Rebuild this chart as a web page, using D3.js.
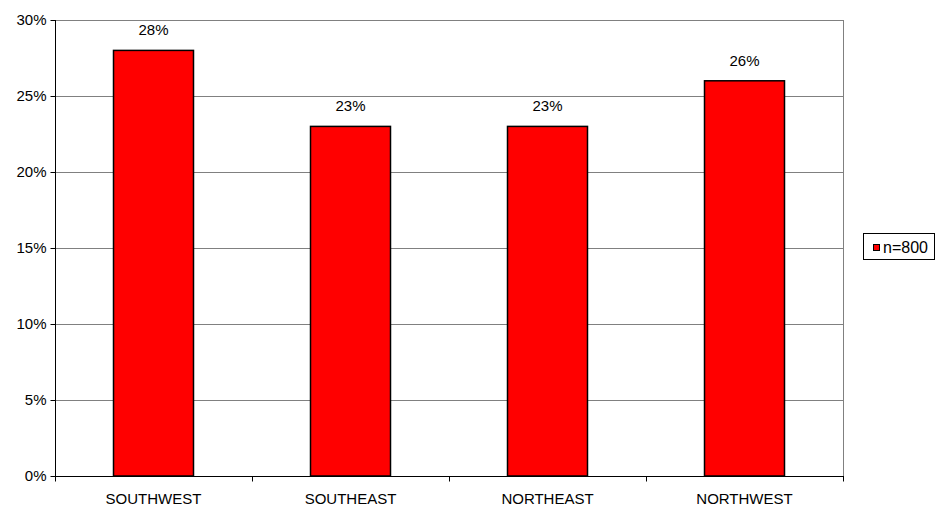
<!DOCTYPE html>
<html>
<head>
<meta charset="utf-8">
<script src="https://cdn.jsdelivr.net/npm/d3@7"></script>
<style>
html,body{margin:0;padding:0;background:#fff;}
svg{display:block;font-family:"Liberation Sans",Arial,sans-serif;}
</style>
</head>
<body>
<svg id="chart" width="935" height="508"></svg>
<script>
const categories = ["SOUTHWEST", "SOUTHEAST", "NORTHEAST", "NORTHWEST"];
const values = [28, 23, 23, 26];
const yTicks = [0, 5, 10, 15, 20, 25, 30];
const seriesName = "n=800";

const svg = d3.select("#chart");
const L = 55, R = 843, T = 20, B = 476;
const FS = 15;

const x = d3.scaleBand().domain(categories).range([L, R]).paddingInner(0).paddingOuter(0);
const y = d3.scaleLinear().domain([0, 30]).range([B, T]);
const barFrac = 80 / 197;

// gridlines
svg.append("g").selectAll("line").data(yTicks.filter(d => d > 0)).join("line")
  .attr("x1", L).attr("x2", R)
  .attr("y1", d => y(d) + 0.5).attr("y2", d => y(d) + 0.5)
  .attr("stroke", "#808080").attr("stroke-width", 1);

// right border
svg.append("line").attr("x1", R + 0.5).attr("x2", R + 0.5).attr("y1", T).attr("y2", B)
  .attr("stroke", "#808080").attr("stroke-width", 1);

// bars
const bw = x.bandwidth() * barFrac;
svg.append("g").selectAll("rect").data(categories).join("rect")
  .attr("x", d => x(d) + (x.bandwidth() - bw) / 2)
  .attr("y", (d, i) => y(values[i]))
  .attr("width", bw)
  .attr("height", (d, i) => B - y(values[i]))
  .attr("fill", "#ff0000").attr("stroke", "#000").attr("stroke-width", 1.5);

// value labels
svg.append("g").selectAll("text").data(categories).join("text")
  .attr("x", d => x(d) + x.bandwidth() / 2)
  .attr("y", (d, i) => y(values[i]) - 15)
  .attr("text-anchor", "middle").attr("font-size", FS).attr("fill", "#000")
  .text((d, i) => values[i] + "%");

// y axis
const yAxis = d3.axisLeft(y).tickValues(yTicks).tickFormat(d => d + "%").tickSize(5).tickPadding(4);
const gy = svg.append("g").attr("transform", `translate(${L + 0.5},0)`).call(yAxis);
gy.select(".domain").attr("stroke", "#000").attr("d", `M0,${T}V${B}`);
gy.selectAll(".tick line").attr("stroke", "#000");
gy.selectAll(".tick text").attr("font-size", FS).attr("fill", "#000").attr("font-family", "Liberation Sans, Arial, sans-serif");

// x axis
const gx = svg.append("g").attr("transform", `translate(0,${B + 0.5})`);
gx.append("line").attr("x1", L).attr("x2", R + 1).attr("y1", 0).attr("y2", 0).attr("stroke", "#000");
const bounds = categories.map(d => x(d)).concat([R]);
gx.selectAll("line.tk").data(bounds).join("line").attr("class", "tk")
  .attr("x1", d => Math.round(d) + 0.5).attr("x2", d => Math.round(d) + 0.5)
  .attr("y1", 0).attr("y2", 5).attr("stroke", "#000");
gx.selectAll("text").data(categories).join("text")
  .attr("x", d => x(d) + x.bandwidth() / 2).attr("y", 27)
  .attr("text-anchor", "middle").attr("font-size", FS).attr("fill", "#000")
  .text(d => d);

// legend
const lg = svg.append("g");
lg.append("rect").attr("x", 863.5).attr("y", 233.5).attr("width", 71).attr("height", 26)
  .attr("fill", "#fff").attr("stroke", "#000").attr("stroke-width", 1);
lg.append("rect").attr("x", 873.5).attr("y", 244.5).attr("width", 6).attr("height", 6)
  .attr("fill", "#ff0000").attr("stroke", "#000").attr("stroke-width", 1);
lg.append("text").attr("x", 883).attr("y", 252.5).attr("font-size", 16).attr("fill", "#000").text(seriesName);
</script>
</body>
</html>
